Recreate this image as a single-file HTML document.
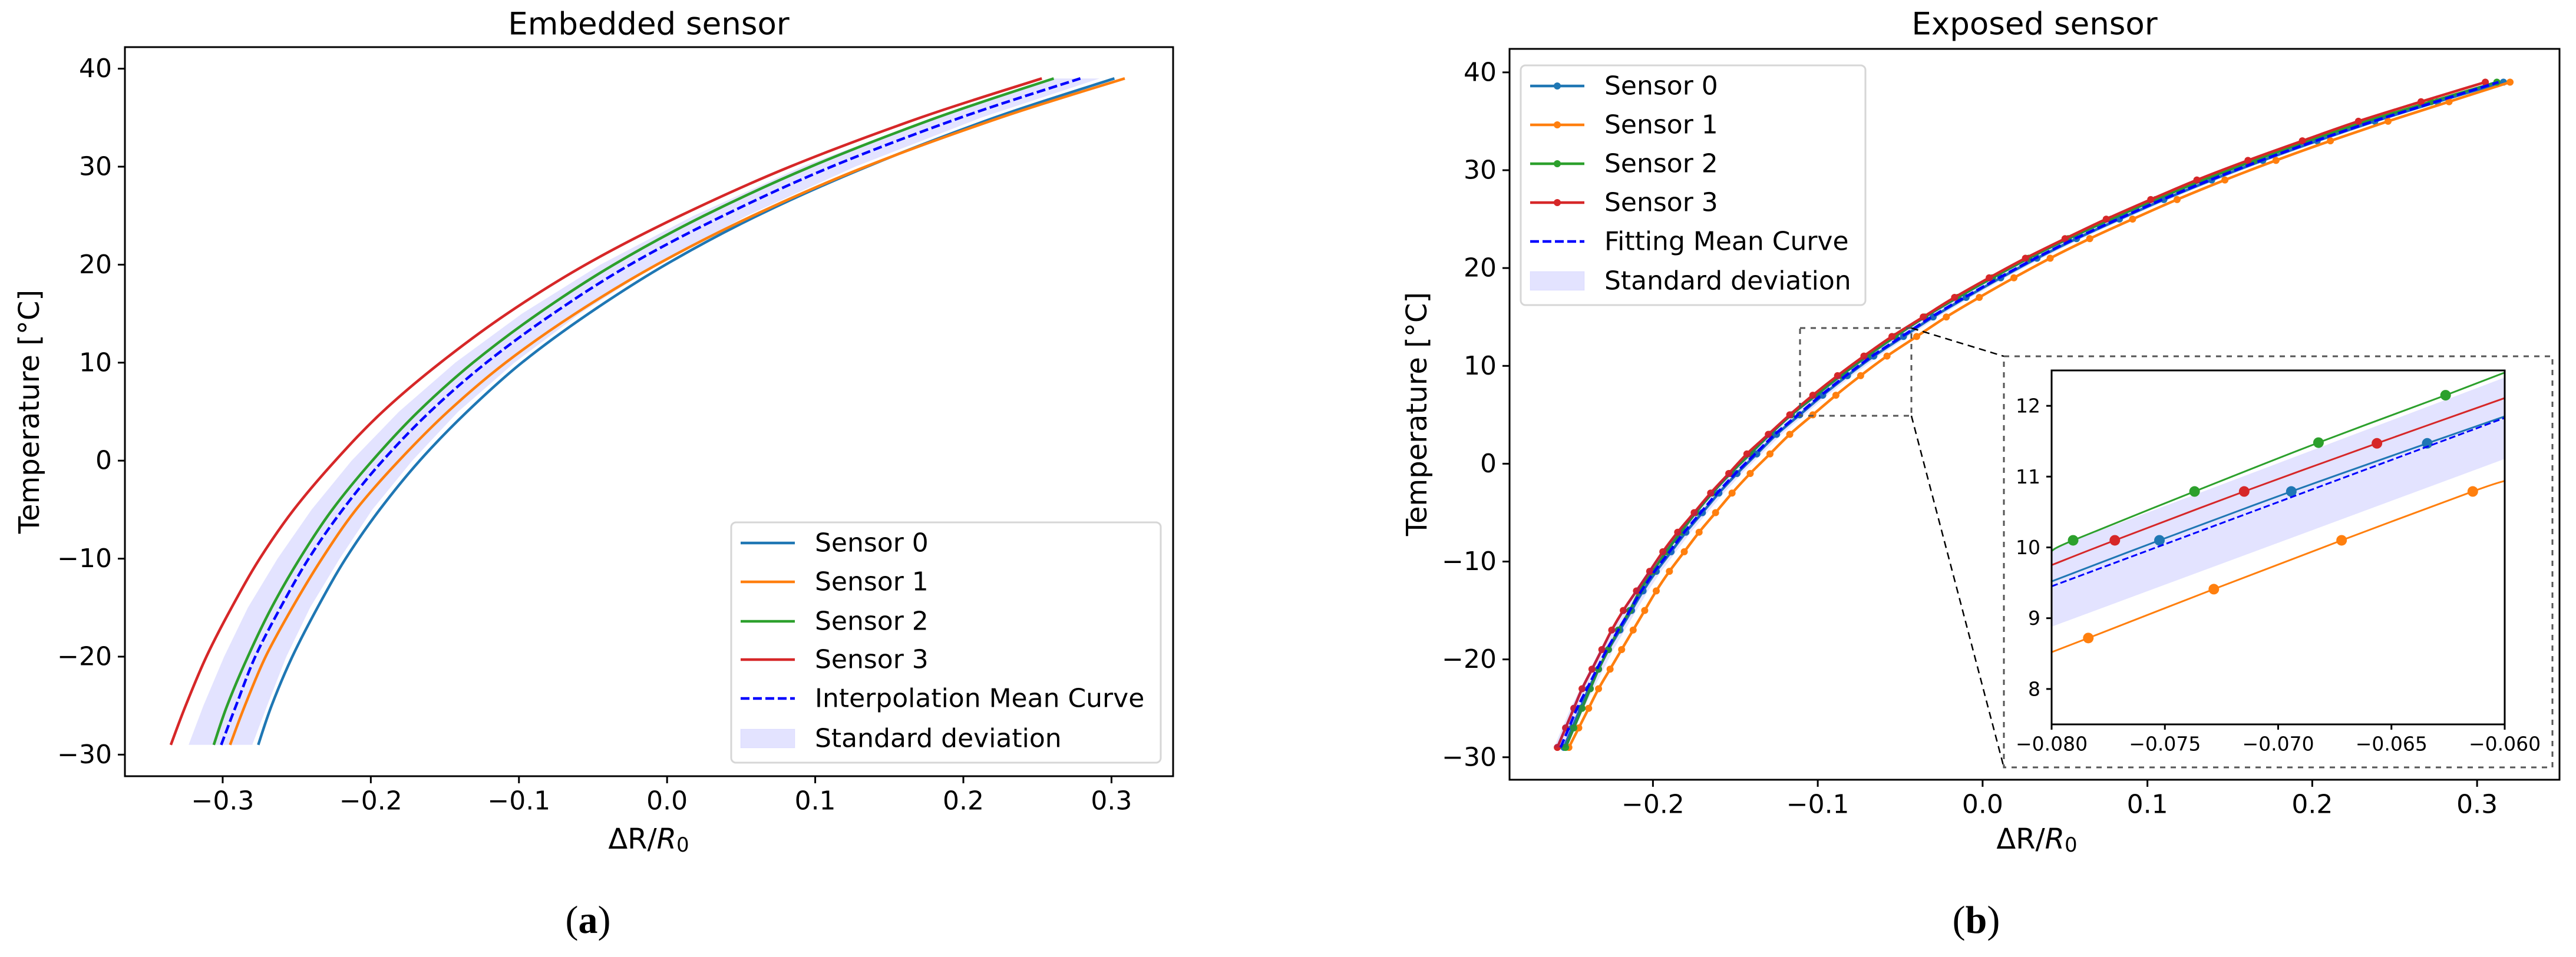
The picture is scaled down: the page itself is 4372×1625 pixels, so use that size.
<!DOCTYPE html>
<html><head><meta charset="utf-8">
<style>
html,body{margin:0;padding:0;background:#fff;width:4372px;height:1625px;overflow:hidden;}
svg{display:block;}
text{font-family:"DejaVu Sans","Liberation Sans",sans-serif;fill:#000;}
.serif{font-family:"Liberation Serif","DejaVu Serif",serif;}
</style></head>
<body>
<svg id="fig" xmlns="http://www.w3.org/2000/svg" width="4372" height="1625" viewBox="0 0 4372 1625">
<defs>
<clipPath id="clipL"><rect x="212" y="80" width="1779" height="1238"/></clipPath>
<clipPath id="clipR"><rect x="2562" y="83" width="1782" height="1241"/></clipPath>
<clipPath id="clipI"><rect x="3482" y="629" width="769" height="601"/></clipPath>
</defs>
<g id="root"></g>
</svg>
<script>
// ---------- Left panel data (Embedded sensor) ----------
const tempLeft = [-29,-25,-20,-15,-10,-5,0,5,10,15,20,25,30,35,39];
const embS0 = [-0.276,-0.267,-0.253,-0.236,-0.217,-0.194,-0.167,-0.135,-0.098,-0.053,-0.001,0.061,0.135,0.221,0.302];
const embS1 = [-0.295,-0.285,-0.271,-0.253,-0.233,-0.210,-0.181,-0.148,-0.109,-0.062,-0.007,0.058,0.134,0.225,0.309];
const embS2 = [-0.306,-0.297,-0.283,-0.267,-0.248,-0.226,-0.199,-0.168,-0.131,-0.087,-0.036,0.025,0.097,0.182,0.261];
const embS3 = [-0.335,-0.325,-0.311,-0.294,-0.275,-0.252,-0.224,-0.192,-0.153,-0.108,-0.055,0.009,0.083,0.171,0.253];
const embMean = [-0.301,-0.291,-0.278,-0.261,-0.242,-0.219,-0.192,-0.160,-0.122,-0.077,-0.025,0.038,0.111,0.198,0.279];
const embBandLo = [-0.323,-0.313,-0.299,-0.283,-0.263,-0.240,-0.213,-0.181,-0.143,-0.098,-0.045,0.018,0.091,0.179,0.260];
const embBandHi = [-0.280,-0.270,-0.257,-0.241,-0.221,-0.199,-0.172,-0.141,-0.103,-0.059,-0.007,0.054,0.127,0.212,0.292];
const leftXTicks = [-0.3,-0.2,-0.1,0.0,0.1,0.2,0.3];
const leftXTickLabels = ["\u22120.3","\u22120.2","\u22120.1","0.0","0.1","0.2","0.3"];
const yTicks = [-30,-20,-10,0,10,20,30,40];
const yTickLabels = ["\u221230","\u221220","\u221210","0","10","20","30","40"];

// ---------- Right panel data (Exposed sensor) ----------
const tempRight = [-29,-27,-25,-23,-21,-19,-17,-15,-13,-11,-9,-7,-5,-3,-1,1,3,5,7,9,11,13,15,17,19,21,23,25,27,29,31,33,35,37,39];
const expS0 = [-0.254,-0.249,-0.244,-0.239,-0.233,-0.227,-0.220,-0.213,-0.206,-0.198,-0.189,-0.180,-0.170,-0.160,-0.149,-0.137,-0.125,-0.111,-0.097,-0.082,-0.066,-0.048,-0.030,-0.010,0.011,0.033,0.057,0.083,0.110,0.139,0.170,0.203,0.238,0.276,0.316];
const expS1 = [-0.251,-0.245,-0.239,-0.233,-0.226,-0.219,-0.212,-0.205,-0.198,-0.190,-0.181,-0.172,-0.162,-0.152,-0.141,-0.129,-0.117,-0.103,-0.089,-0.074,-0.058,-0.040,-0.022,-0.002,0.019,0.041,0.065,0.091,0.118,0.147,0.178,0.211,0.246,0.283,0.320];
const expS2 = [-0.253,-0.248,-0.243,-0.238,-0.233,-0.227,-0.221,-0.214,-0.208,-0.200,-0.192,-0.183,-0.174,-0.164,-0.153,-0.141,-0.129,-0.116,-0.101,-0.086,-0.070,-0.053,-0.035,-0.015,0.006,0.028,0.052,0.078,0.105,0.134,0.165,0.198,0.233,0.272,0.312];
const expS3 = [-0.258,-0.253,-0.248,-0.243,-0.237,-0.231,-0.225,-0.218,-0.210,-0.202,-0.194,-0.185,-0.175,-0.165,-0.154,-0.143,-0.130,-0.117,-0.103,-0.088,-0.072,-0.055,-0.036,-0.017,0.004,0.026,0.050,0.075,0.102,0.130,0.161,0.194,0.228,0.266,0.305];
const expMean = [-0.256,-0.251,-0.246,-0.240,-0.234,-0.228,-0.221,-0.214,-0.207,-0.199,-0.190,-0.181,-0.171,-0.161,-0.150,-0.138,-0.126,-0.112,-0.098,-0.083,-0.067,-0.049,-0.031,-0.011,0.010,0.032,0.056,0.082,0.109,0.138,0.169,0.202,0.237,0.275,0.313];
const expStd = [0.004,0.004,0.004,0.004,0.004,0.004,0.004,0.004,0.004,0.004,0.004,0.004,0.004,0.004,0.004,0.004,0.004,0.004,0.004,0.004,0.004,0.004,0.004,0.004,0.004,0.004,0.004,0.004,0.004,0.004,0.004,0.004,0.004,0.004,0.004];
const rightXTicks = [-0.2,-0.1,0.0,0.1,0.2,0.3];
const rightXTickLabels = ["\u22120.2","\u22120.1","0.0","0.1","0.2","0.3"];

// ---------- Inset data ----------
const insS0x = [-0.080,-0.07524,-0.06942,-0.06342,-0.060];
const insS0t = [9.52,10.10,10.79,11.47,11.85];
const insS1x = [-0.080,-0.07838,-0.07284,-0.0672,-0.06141,-0.060];
const insS1t = [8.52,8.72,9.41,10.10,10.79,10.94];
const insS2x = [-0.080,-0.07905,-0.07369,-0.06822,-0.06261,-0.060];
const insS2t = [9.95,10.10,10.79,11.48,12.15,12.47];
const insS3x = [-0.080,-0.07721,-0.07150,-0.06564,-0.060];
const insS3t = [9.75,10.10,10.79,11.47,12.11];
const insMeanX = [-0.080,-0.060];
const insMeanT = [9.45,11.83];
const insBandLo = [8.88,11.25];
const insBandHi = [9.98,12.40];
const insXTicks = [-0.080,-0.075,-0.070,-0.065,-0.060];
const insXTickLabels = ["\u22120.080","\u22120.075","\u22120.070","\u22120.065","\u22120.060"];
const insYTicks = [8,9,10,11,12];
const insYTickLabels = ["8","9","10","11","12"];

const C0="#1f77b4",C1="#ff7f0e",C2="#2ca02c",C3="#d62728",CM="#0000ff",CB="rgba(0,0,255,0.11)";
const NS="http://www.w3.org/2000/svg";
const root=document.getElementById('root');
function el(tag,attrs,parent,txt){const e=document.createElementNS(NS,tag);for(const k in attrs)e.setAttribute(k,attrs[k]);if(txt!==undefined)e.textContent=txt;(parent||root).appendChild(e);return e;}
function axis(box){return {x:v=>box.x0+(v-box.xmin)/(box.xmax-box.xmin)*(box.x1-box.x0), y:v=>box.y1-(v-box.ymin)/(box.ymax-box.ymin)*(box.y1-box.y0)};}
function smoothPath(pts){
  if(pts.length<3){return 'M'+pts.map(p=>p[0].toFixed(1)+','+p[1].toFixed(1)).join(' L');}
  let d='M'+pts[0][0].toFixed(1)+','+pts[0][1].toFixed(1);
  for(let i=0;i<pts.length-1;i++){
    const p0=pts[Math.max(0,i-1)],p1=pts[i],p2=pts[i+1],p3=pts[Math.min(pts.length-1,i+2)];
    const c1=[p1[0]+(p2[0]-p0[0])/6,p1[1]+(p2[1]-p0[1])/6];
    const c2=[p2[0]-(p3[0]-p1[0])/6,p2[1]-(p3[1]-p1[1])/6];
    d+=' C'+c1[0].toFixed(1)+','+c1[1].toFixed(1)+' '+c2[0].toFixed(1)+','+c2[1].toFixed(1)+' '+p2[0].toFixed(1)+','+p2[1].toFixed(1);
  }
  return d;
}
function frame(box,name){
  const r=el('rect',{x:box.x0,y:box.y0,width:box.x1-box.x0,height:box.y1-box.y0,fill:'none',stroke:'#000','stroke-width':3});
  
  
}
function ticks(box,A,xt,xl,yt,yl,fs,tl,prefix,labOff){
  const g=el('g',{});
  
  
  xt.forEach((v,i)=>{const x=A.x(v);
    el('line',{x1:x,y1:box.y1,x2:x,y2:box.y1+tl,stroke:'#000','stroke-width':3},g);
    const t=el('text',{x:x,y:box.y1+labOff,'font-size':fs,'text-anchor':'middle','dominant-baseline':'central'},g,xl[i]);
    
    
  });
  const g2=el('g',{});
  
  
  yt.forEach((v,i)=>{const y=A.y(v);
    el('line',{x1:box.x0,y1:y,x2:box.x0-tl,y2:y,stroke:'#000','stroke-width':3},g2);
    const t=el('text',{x:box.x0-tl-10,y:y,'font-size':fs,'text-anchor':'end','dominant-baseline':'central'},g2,yl[i]);
    
    
  });
}
function line(A,xs,ts,color,clip,name,dash,w){
  const p=el('path',{d:smoothPath(xs.map((v,i)=>[A.x(v),A.y(ts[i])])),fill:'none',stroke:color,'stroke-width':w||4.5,'clip-path':'url(#'+clip+')'});
  if(dash)p.setAttribute('stroke-dasharray',dash);
  
  
  return p;
}
function band(A,lo,hi,ts,clip,name){
  const a=lo.map((v,i)=>[A.x(v),A.y(ts[i])]);
  const b=hi.map((v,i)=>[A.x(v),A.y(ts[i])]).reverse();
  const p=el('path',{d:'M'+a.concat(b).map(q=>q[0].toFixed(1)+','+q[1].toFixed(1)).join(' L')+' Z',fill:CB,stroke:'none','clip-path':'url(#'+clip+')'});
  
  
}
function markers(A,xs,ts,color,r,name,clip){
  const g=el('g',{'clip-path':'url(#'+clip+')'});
  
  
  xs.forEach((v,i)=>{el('circle',{cx:A.x(v),cy:A.y(ts[i]),r:r,fill:color},g);});
}
function legend(x,y,w,h,entries,name){
  const g=el('g',{});
  
  
  el('rect',{x:x,y:y,width:w,height:h,rx:8,fill:'rgba(255,255,255,0.8)',stroke:'#d6d6d6','stroke-width':3},g);
  entries.forEach(e=>{
    const eg=el('g',{},g);
    
    
    if(e.type==='band'){el('rect',{x:x+16,y:e.y-16,width:92,height:32,fill:CB,stroke:'rgba(0,0,255,0.06)'},eg);}
    else{const l=el('line',{x1:x+16,y1:e.y,x2:x+108,y2:e.y,stroke:e.c,'stroke-width':4.5},eg);
      if(e.dash)l.setAttribute('stroke-dasharray',e.dash);
      if(e.m)el('circle',{cx:x+62,cy:e.y,r:6,fill:e.c},eg);}
    el('text',{x:x+142,y:e.y,'font-size':44,'dominant-baseline':'central'},eg,e.t);
  });
}

// ===== Left panel =====
const BL={x0:212,x1:1991,y0:80,y1:1318,xmin:-0.366,xmax:0.3416,ymin:-32.2,ymax:42.2};
const AL=axis(BL);
band(AL,embBandLo,embBandHi,tempLeft,'clipL','std-band-embedded');
line(AL,embS0,tempLeft,C0,'clipL','sensor-0-line-embedded');
line(AL,embS1,tempLeft,C1,'clipL','sensor-1-line-embedded');
line(AL,embS2,tempLeft,C2,'clipL','sensor-2-line-embedded');
line(AL,embS3,tempLeft,C3,'clipL','sensor-3-line-embedded');
line(AL,embMean,tempLeft,CM,'clipL','mean-curve-embedded','15,6');
frame(BL,'plot-area-embedded');
ticks(BL,AL,leftXTicks,leftXTickLabels,yTicks,yTickLabels,44,12,'embedded',42);
legend(1241,887,729,408,[
 {y:922,c:C0,t:'Sensor 0'},{y:988,c:C1,t:'Sensor 1'},{y:1055,c:C2,t:'Sensor 2'},{y:1120,c:C3,t:'Sensor 3'},
 {y:1186,c:CM,t:'Interpolation Mean Curve',dash:'15,6'},{y:1254,type:'band',t:'Standard deviation'}],'legend-embedded');

// ===== Right panel =====
const BR={x0:2562,x1:4344,y0:83,y1:1324,xmin:-0.287,xmax:0.350,ymin:-32.3,ymax:42.4};
const AR=axis(BR);
line(AR,expS0,tempRight,C0,'clipR','sensor-0-line-exposed');
markers(AR,expS0,tempRight,C0,6,'sensor-0-markers-exposed','clipR');
line(AR,expS1,tempRight,C1,'clipR','sensor-1-line-exposed');
markers(AR,expS1,tempRight,C1,6,'sensor-1-markers-exposed','clipR');
line(AR,expS2,tempRight,C2,'clipR','sensor-2-line-exposed');
markers(AR,expS2,tempRight,C2,6,'sensor-2-markers-exposed','clipR');
line(AR,expS3,tempRight,C3,'clipR','sensor-3-line-exposed');
markers(AR,expS3,tempRight,C3,6,'sensor-3-markers-exposed','clipR');
line(AR,expMean,tempRight,CM,'clipR','mean-curve-exposed','15,6');
band(AR,expMean.map((v,i)=>v-expStd[i]),expMean.map((v,i)=>v+expStd[i]),tempRight,'clipR','std-band-exposed');
frame(BR,'plot-area-exposed');
ticks(BR,AR,rightXTicks,rightXTickLabels,yTicks,yTickLabels,44,12,'exposed',42);
legend(2581,111,585,407,[
 {y:146,c:C0,t:'Sensor 0',m:1},{y:212,c:C1,t:'Sensor 1',m:1},{y:278,c:C2,t:'Sensor 2',m:1},{y:344,c:C3,t:'Sensor 3',m:1},
 {y:410,c:CM,t:'Fitting Mean Curve',dash:'15,6'},{y:477,type:'band',t:'Standard deviation'}],'legend-exposed');

// zoom indicator rectangle + connectors
const zr=el('rect',{x:3055,y:557,width:189,height:149,fill:'none',stroke:'#555','stroke-width':3,'stroke-dasharray':'9,9'});


const c1=el('line',{x1:3244,y1:557,x2:3401,y2:605,stroke:'#000','stroke-width':2.5,'stroke-dasharray':'12,8'});


const c2=el('line',{x1:3244,y1:706,x2:3401,y2:1303,stroke:'#000','stroke-width':2.5,'stroke-dasharray':'12,8'});


const ib=el('rect',{x:3401,y:605,width:931,height:698,fill:'#fff',stroke:'#555','stroke-width':3,'stroke-dasharray':'9,9'});



// ===== Inset =====
const BI={x0:3482,x1:4251,y0:629,y1:1230,xmin:-0.080,xmax:-0.060,ymin:7.5,ymax:12.5};
const AI=axis(BI);
(function(){
  const pts=[[AI.x(insMeanX[0]),AI.y(insBandLo[0])],[AI.x(insMeanX[1]),AI.y(insBandLo[1])],[AI.x(insMeanX[1]),AI.y(insBandHi[1])],[AI.x(insMeanX[0]),AI.y(insBandHi[0])]];
  const p=el('path',{d:'M'+pts.map(q=>q[0].toFixed(1)+','+q[1].toFixed(1)).join(' L')+' Z',fill:CB,'clip-path':'url(#clipI)'});
  
  
})();
line(AI,insS0x,insS0t,C0,'clipI','inset-sensor-0-line',null,3);
markers(AI,insS0x.slice(1,-1),insS0t.slice(1,-1),C0,9,'inset-sensor-0-markers','clipI');
line(AI,insS1x,insS1t,C1,'clipI','inset-sensor-1-line',null,3);
markers(AI,insS1x.slice(1,-1),insS1t.slice(1,-1),C1,9,'inset-sensor-1-markers','clipI');
line(AI,insS2x,insS2t,C2,'clipI','inset-sensor-2-line',null,3);
markers(AI,insS2x.slice(1,-1),insS2t.slice(1,-1),C2,9,'inset-sensor-2-markers','clipI');
line(AI,insS3x,insS3t,C3,'clipI','inset-sensor-3-line',null,3);
markers(AI,insS3x.slice(1,-1),insS3t.slice(1,-1),C3,9,'inset-sensor-3-markers','clipI');
line(AI,insMeanX,insMeanT,CM,'clipI','inset-mean-curve','11,5',3);
frame(BI,'inset-plot-area');
ticks(BI,AI,insXTicks,insXTickLabels,insYTicks,insYTickLabels,33,9,'inset',33);

// ===== Titles and labels =====
function txt(x,y,s,fs,name,extra){const t=el('text',Object.assign({x:x,y:y,'font-size':fs,'text-anchor':'middle','dominant-baseline':'central'},extra||{}),root,s);return t;}
txt(1101,41,'Embedded sensor',53,'title-embedded');
txt(3453,41,'Exposed sensor',53,'title-exposed');
txt(50,699,'Temperature [°C]',48,'y-axis-title-embedded',{transform:'rotate(-90 50 699)'});
txt(2405,703,'Temperature [°C]',48,'y-axis-title-exposed',{transform:'rotate(-90 2405 703)'});
function xlab(cx,cy,name){const t=el('text',{x:cx,y:cy,'font-size':48,'text-anchor':'middle','dominant-baseline':'central'});
  
  t.appendChild(document.createTextNode('\u0394R/'));
  const i=document.createElementNS(NS,'tspan');i.setAttribute('font-style','italic');i.textContent='R';t.appendChild(i);
  const s=document.createElementNS(NS,'tspan');s.setAttribute('font-size','34');s.setAttribute('dy','10');s.textContent='0';t.appendChild(s);}
xlab(1101,1425,'x-axis-title-embedded');
xlab(3457,1425,'x-axis-title-exposed');
const la=txt(998,1562,'',66,'subfigure-label-a',{class:'serif'});
la.innerHTML='(<tspan font-weight="bold">a</tspan>)';
const lb=txt(3354,1562,'',66,'subfigure-label-b',{class:'serif'});
lb.innerHTML='(<tspan font-weight="bold">b</tspan>)';
</script>
</body></html>
